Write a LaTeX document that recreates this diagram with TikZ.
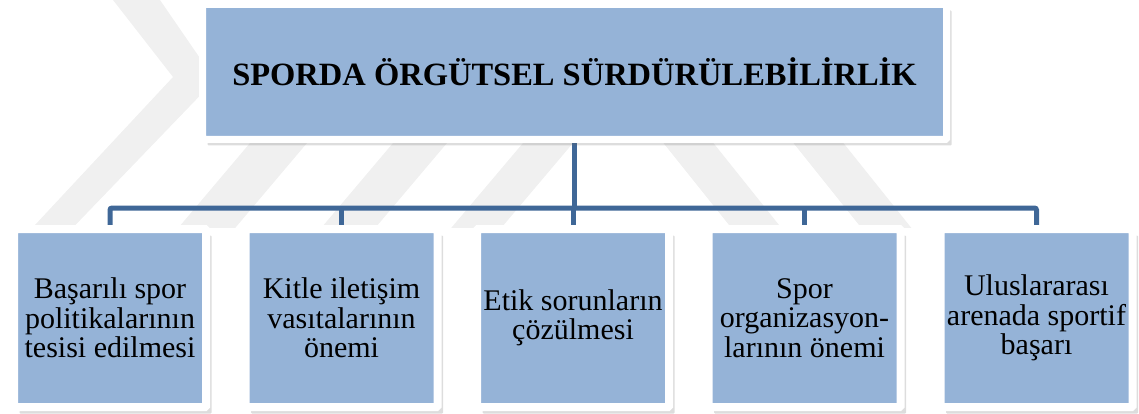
\documentclass[tikz,border=0pt]{standalone}
\usepackage{fontspec}
\setmainfont{Liberation Serif}
\usetikzlibrary{shadows,backgrounds}
\definecolor{boxblue}{HTML}{95B3D7}
\definecolor{linkblue}{HTML}{3F6797}
\definecolor{wmgray}{HTML}{F0F0F0}
\begin{document}
\begin{tikzpicture}[x=1pt,y=-1pt,
  topbox/.style={rectangle, draw=white, line width=7pt, fill=boxblue,
    rounded corners=1pt, inner sep=0pt, minimum width=744pt, minimum height=135pt,
    drop shadow={shadow xshift=5pt, shadow yshift=-6pt, opacity=0.22, fill=black!60},
    font=\bfseries\fontsize{32.5}{36}\selectfont},
  leafbox/.style={rectangle, draw=white, line width=8pt, fill=boxblue,
    rounded corners=1pt, inner sep=0pt, minimum width=192pt, minimum height=178pt,
    drop shadow={shadow xshift=5.5pt, shadow yshift=-6.5pt, opacity=0.22, fill=black!60},
    align=center, font=\fontsize{30}{29.5}\selectfont},
  conn/.style={draw=linkblue, line width=5pt, rounded corners=2pt},
  wm/.style={fill=wmgray}
]
\useasboundingbox (0,0) rectangle (1139,414);

\node[topbox] (top) at (574.5,72) {SPORDA ÖRGÜTSEL SÜRDÜRÜLEBİLİRLİK};

\node[leafbox] (b1) at (110,318)    {Başarılı spor\\politikalarının\\tesisi edilmesi};
\node[leafbox] (b2) at (341.5,318)  {Kitle iletişim\\vasıtalarının\\önemi};
\node[leafbox] (b3) at (573,318)    {Etik sorunların\\çözülmesi};
\node[leafbox] (b4) at (804.5,318)  {Spor\\organizasyon-\\larının önemi};
\node[leafbox] (b5) at (1036.5,318) {Uluslararası\\arenada sportif\\başarı};

\coordinate (bus) at (574.5,208);

\begin{scope}[on background layer]
  \begin{scope}
    \clip (0,0) rectangle (1139,227);
    \fill[wm] (113,0) -- (160,0) -- (215,80) -- (61,240) -- (21,240) -- (173,77) -- cycle;
    \fill[wm] (261,130) -- (318,130) -- (225,240) -- (168,240) -- cycle;
    \fill[wm] (404,130) -- (458,130) -- (365,240) -- (311,240) -- cycle;
    \fill[wm] (534,130) -- (584,130) -- (491,240) -- (441,240) -- cycle;
    \fill[wm] (653,130) -- (703,130) -- (791,240) -- (741,240) -- cycle;
    \fill[wm] (783,130) -- (833,130) -- (921,240) -- (871,240) -- cycle;
  \end{scope}
  \draw[conn] (top.south) -- (bus);
  \draw[conn] (b1.north) |- (bus) -| (b5.north);
  \draw[conn] (b2.north) -- (b2.north |- bus);
  \draw[conn] (b3.north) -- (b3.north |- bus);
  \draw[conn] (b4.north) -- (b4.north |- bus);
\end{scope}
\end{tikzpicture}
\end{document}
